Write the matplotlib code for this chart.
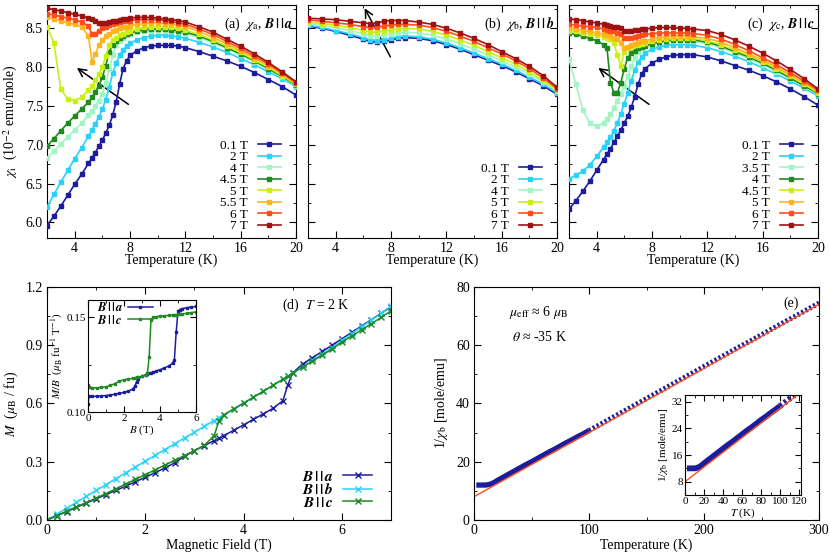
import numpy as np
import matplotlib
matplotlib.use('Agg')
from matplotlib import pyplot as plt
from matplotlib.ticker import MultipleLocator, FormatStrFormatter

plt.rcParams['font.family'] = ['Liberation Serif', 'DejaVu Serif']
plt.rcParams['mathtext.fontset'] = 'stix'

# ---------------- data: chi(T) for several fields ----------------
# panel (a), B || a
T_a = [2, 2.5, 3, 3.5, 4, 4.5, 5, 5.25, 5.5, 5.75, 6, 6.25, 6.5, 6.75, 7, 7.25, 7.5, 7.75,
       8, 8.5, 9, 9.5, 10, 10.5, 11, 11.5, 12, 13, 14, 15, 16, 17, 18, 19, 20]
chi_a_01 = [5.96, 6.08, 6.21, 6.35, 6.49, 6.62, 6.76, 6.83, 6.90, 6.98, 7.06, 7.15, 7.25, 7.38, 7.55,
            7.78, 7.98, 8.08, 8.15, 8.21, 8.25, 8.27, 8.28, 8.28, 8.28, 8.27, 8.25, 8.20, 8.14, 8.08,
            8.01, 7.93, 7.84, 7.75, 7.64]
chi_a_2 = [6.20, 6.36, 6.52, 6.67, 6.82, 6.96, 7.11, 7.19, 7.27, 7.36, 7.46, 7.58, 7.74, 7.92, 8.05,
           8.15, 8.22, 8.27, 8.31, 8.35, 8.38, 8.40, 8.41, 8.41, 8.40, 8.39, 8.37, 8.32, 8.26, 8.19,
           8.11, 8.03, 7.94, 7.85, 7.75]
chi_a_4 = [6.83, 6.92, 7.01, 7.10, 7.19, 7.28, 7.38, 7.44, 7.50, 7.57, 7.66, 7.80, 7.97, 8.15, 8.29,
           8.34, 8.38, 8.41, 8.43, 8.45, 8.46, 8.47, 8.47, 8.47, 8.46, 8.45, 8.43, 8.38, 8.31, 8.24,
           8.15, 8.07, 7.97, 7.87, 7.76]
chi_a_45 = [6.98, 7.08, 7.18, 7.28, 7.37, 7.46, 7.55, 7.61, 7.68, 7.76, 7.87, 8.02, 8.20, 8.29, 8.33,
            8.37, 8.40, 8.42, 8.44, 8.46, 8.48, 8.49, 8.49, 8.49, 8.48, 8.47, 8.45, 8.40, 8.33, 8.25,
            8.17, 8.08, 7.98, 7.88, 7.77]
chi_a_5 = [8.52, 8.31, 7.72, 7.59, 7.57, 7.61, 7.70, 7.76, 7.83, 7.91, 8.00, 8.14, 8.28, 8.35, 8.38,
           8.41, 8.43, 8.45, 8.47, 8.49, 8.51, 8.52, 8.52, 8.52, 8.51, 8.50, 8.48, 8.42, 8.35, 8.27,
           8.19, 8.09, 8.00, 7.89, 7.78]
chi_a_55 = [8.64, 8.62, 8.60, 8.57, 8.55, 8.52, 8.40, 8.07, 8.17, 8.28, 8.35, 8.40, 8.43, 8.46, 8.48,
            8.50, 8.51, 8.52, 8.53, 8.55, 8.56, 8.57, 8.57, 8.56, 8.55, 8.54, 8.52, 8.46, 8.38, 8.30,
            8.21, 8.12, 8.02, 7.91, 7.79]
chi_a_6 = [8.69, 8.67, 8.65, 8.63, 8.61, 8.58, 8.53, 8.42, 8.43, 8.47, 8.50, 8.52, 8.54, 8.55, 8.57,
           8.58, 8.59, 8.59, 8.60, 8.61, 8.61, 8.61, 8.61, 8.60, 8.59, 8.57, 8.55, 8.49, 8.42, 8.33,
           8.24, 8.14, 8.04, 7.92, 7.80]
chi_a_7 = [8.76, 8.74, 8.72, 8.70, 8.68, 8.66, 8.63, 8.62, 8.59, 8.57, 8.57, 8.57, 8.58, 8.59, 8.60,
           8.61, 8.62, 8.62, 8.63, 8.64, 8.64, 8.64, 8.63, 8.62, 8.61, 8.60, 8.58, 8.52, 8.45, 8.36,
           8.27, 8.17, 8.06, 7.94, 7.81]

# panel (b), B || b
T_b = [2, 3, 4, 5, 6, 6.5, 7, 7.5, 8, 8.5, 9, 10, 11, 12, 13, 14, 15, 16, 17, 18, 19, 20]
chi_b_01 = [8.53, 8.50, 8.46, 8.41, 8.36, 8.33, 8.32, 8.33, 8.35, 8.37, 8.38, 8.37, 8.34, 8.29, 8.23,
            8.16, 8.09, 8.02, 7.94, 7.85, 7.76, 7.65]
chi_b_2 = [8.54, 8.51, 8.47, 8.43, 8.38, 8.35, 8.34, 8.35, 8.37, 8.39, 8.40, 8.39, 8.36, 8.31, 8.25,
           8.18, 8.11, 8.04, 7.96, 7.87, 7.78, 7.67]
chi_b_4 = [8.56, 8.54, 8.51, 8.47, 8.43, 8.40, 8.40, 8.41, 8.43, 8.44, 8.45, 8.44, 8.41, 8.36, 8.30,
           8.23, 8.16, 8.08, 8.00, 7.91, 7.81, 7.69]
chi_b_5 = [8.58, 8.56, 8.54, 8.51, 8.47, 8.45, 8.45, 8.47, 8.48, 8.49, 8.50, 8.49, 8.46, 8.41, 8.35,
           8.28, 8.20, 8.12, 8.04, 7.94, 7.83, 7.70]
chi_b_6 = [8.61, 8.59, 8.57, 8.55, 8.52, 8.51, 8.51, 8.53, 8.54, 8.55, 8.55, 8.54, 8.51, 8.46, 8.40,
           8.33, 8.25, 8.17, 8.08, 7.98, 7.86, 7.72]
chi_b_7 = [8.63, 8.62, 8.61, 8.59, 8.57, 8.56, 8.57, 8.59, 8.60, 8.60, 8.60, 8.58, 8.55, 8.50, 8.44,
           8.37, 8.29, 8.20, 8.11, 8.01, 7.89, 7.74]

# panel (c), B || c
T_c = [2, 2.5, 3, 3.5, 4, 4.5, 4.75, 5, 5.25, 5.5, 5.75, 6, 6.25, 6.5, 6.75, 7, 7.25, 7.5,
       8, 8.5, 9, 9.5, 10, 10.5, 11, 12, 13, 14, 15, 16, 17, 18, 19, 20]
chi_c_01 = [6.17, 6.28, 6.40, 6.53, 6.67, 6.81, 6.88, 6.95, 7.03, 7.11, 7.19, 7.28, 7.37, 7.48, 7.62,
            7.78, 7.91, 7.98, 8.05, 8.10, 8.13, 8.15, 8.16, 8.16, 8.16, 8.13, 8.08, 8.02, 7.96, 7.89,
            7.81, 7.72, 7.62, 7.51]
chi_c_2 = [6.56, 6.61, 6.66, 6.74, 6.85, 6.97, 7.03, 7.10, 7.18, 7.28, 7.40, 7.53, 7.67, 7.82, 7.96,
           8.06, 8.13, 8.18, 8.23, 8.26, 8.28, 8.29, 8.29, 8.29, 8.28, 8.25, 8.20, 8.14, 8.07, 7.99,
           7.91, 7.82, 7.73, 7.63]
chi_c_35 = [8.10, 7.78, 7.45, 7.28, 7.24, 7.28, 7.33, 7.39, 7.47, 7.56, 7.66, 7.76, 7.88, 8.01, 8.12,
            8.19, 8.24, 8.27, 8.30, 8.32, 8.34, 8.34, 8.34, 8.34, 8.33, 8.30, 8.25, 8.18, 8.11, 8.03,
            7.94, 7.85, 7.75, 7.65]
chi_c_4 = [8.44, 8.42, 8.40, 8.37, 8.34, 8.29, 8.24, 7.80, 7.67, 7.67, 7.80, 7.98, 8.12, 8.18, 8.21,
           8.24, 8.26, 8.27, 8.30, 8.32, 8.34, 8.35, 8.35, 8.35, 8.35, 8.32, 8.27, 8.20, 8.13, 8.05,
           7.96, 7.86, 7.76, 7.66]
chi_c_45 = [8.47, 8.46, 8.44, 8.43, 8.41, 8.39, 8.38, 8.36, 8.31, 8.15, 8.02, 8.20, 8.24, 8.26, 8.28,
            8.29, 8.30, 8.31, 8.33, 8.35, 8.36, 8.37, 8.37, 8.37, 8.37, 8.34, 8.29, 8.22, 8.15, 8.07,
            7.98, 7.88, 7.78, 7.67]
chi_c_5 = [8.50, 8.49, 8.47, 8.46, 8.44, 8.42, 8.41, 8.40, 8.38, 8.36, 8.31, 8.24, 8.26, 8.28, 8.30,
           8.32, 8.33, 8.34, 8.36, 8.38, 8.39, 8.40, 8.40, 8.40, 8.39, 8.37, 8.32, 8.25, 8.17, 8.09,
           8.00, 7.90, 7.80, 7.69]
chi_c_6 = [8.55, 8.54, 8.53, 8.52, 8.51, 8.49, 8.48, 8.47, 8.46, 8.44, 8.42, 8.37, 8.37, 8.38, 8.39,
           8.40, 8.41, 8.42, 8.43, 8.44, 8.44, 8.44, 8.44, 8.44, 8.43, 8.41, 8.36, 8.29, 8.21, 8.12,
           8.03, 7.93, 7.82, 7.70]
chi_c_7 = [8.62, 8.61, 8.60, 8.58, 8.57, 8.55, 8.54, 8.53, 8.52, 8.51, 8.50, 8.47, 8.47, 8.47, 8.48,
           8.48, 8.49, 8.49, 8.50, 8.51, 8.51, 8.51, 8.50, 8.50, 8.49, 8.47, 8.42, 8.35, 8.27, 8.18,
           8.08, 7.97, 7.85, 7.72]

# ---------------- data: M(B) at 2 K ----------------
B_field = [0, 0.2, 0.4, 0.6, 0.8, 1.0, 1.2, 1.4, 1.6, 1.8, 2.0, 2.2, 2.4, 2.6, 2.8, 3.0, 3.2, 3.4,
           3.5, 3.6, 3.8, 4.0, 4.2, 4.4, 4.6, 4.8, 4.9, 5.0, 5.2, 5.4, 5.6, 5.8, 6.0, 6.2, 6.4,
           6.6, 6.8, 7.0]
M_a = [0.0, 0.022, 0.043, 0.065, 0.087, 0.109, 0.131, 0.152, 0.174, 0.197, 0.220, 0.244, 0.268,
       0.295, 0.328, 0.357, 0.383, 0.409, 0.421, 0.435, 0.462, 0.490, 0.518, 0.546, 0.575, 0.614,
       0.696, 0.758, 0.803, 0.836, 0.868, 0.900, 0.933, 0.966, 0.999, 1.032, 1.065, 1.098]
M_b = [0.0, 0.030, 0.061, 0.091, 0.122, 0.152, 0.182, 0.213, 0.243, 0.273, 0.303, 0.333, 0.363,
       0.393, 0.423, 0.452, 0.482, 0.512, 0.527, 0.542, 0.572, 0.602, 0.632, 0.662, 0.693, 0.724,
       0.740, 0.756, 0.789, 0.822, 0.855, 0.888, 0.925, 0.960, 0.995, 1.030, 1.065, 1.102]
M_c = [0.0, 0.023, 0.045, 0.068, 0.090, 0.113, 0.136, 0.160, 0.185, 0.209, 0.234, 0.258, 0.283,
       0.307, 0.332, 0.357, 0.384, 0.434, 0.510, 0.541, 0.572, 0.602, 0.632, 0.663, 0.694, 0.725,
       0.740, 0.757, 0.788, 0.818, 0.849, 0.880, 0.916, 0.947, 0.979, 1.011, 1.043, 1.077]

# inset: M/B
B_in = [0, 0.05, 0.25, 0.5, 0.75, 1.0, 1.25, 1.5, 1.75, 2.0, 2.25, 2.5, 2.6, 2.7, 2.8, 3.0, 3.2,
        3.3, 3.4, 3.5, 3.6, 3.8, 4.0, 4.25, 4.5, 4.7, 4.8, 4.9, 5.0, 5.1, 5.25, 5.5, 5.75, 6.0]
MB_a = [0.1040, 0.1085, 0.1083, 0.1083, 0.1085, 0.1087, 0.1090, 0.1094, 0.1098, 0.1103, 0.1110,
        0.1122, 0.1135, 0.1160, 0.1175, 0.1188, 0.1196, 0.1200, 0.1203, 0.1206, 0.1209, 0.1216,
        0.1223, 0.1232, 0.1243, 0.1258, 0.1275, 0.1420, 0.1530, 0.1540, 0.1545, 0.1550, 0.1553,
        0.1556]
MB_c = [0.1140, 0.1130, 0.1127, 0.1127, 0.1130, 0.1133, 0.1140, 0.1150, 0.1163, 0.1170, 0.1174,
        0.1178, 0.1180, 0.1182, 0.1184, 0.1188, 0.1195, 0.1203, 0.1290, 0.1485, 0.1498, 0.1502,
        0.1505, 0.1507, 0.1509, 0.1511, 0.1512, 0.1513, 0.1514, 0.1515, 0.1517, 0.1520, 0.1524,
        0.1527]

# ---------------- data: 1/chi_b(T) ----------------
T_low = [2, 4, 6, 8, 10, 12, 14, 16, 18, 20, 25, 30, 35, 40, 45, 50, 55, 60, 65, 70, 75, 80, 85,
         90, 95, 100]
inv_low = [12.0, 12.0, 12.0, 12.0, 12.0, 12.1, 12.3, 12.6, 13.0, 13.5, 14.6, 15.7, 16.8, 17.9,
           19.0, 20.0, 21.1, 22.2, 23.3, 24.3, 25.4, 26.5, 27.5, 28.6, 29.6, 30.7]
T_high = [100, 110, 120, 130, 140, 150, 160, 170, 180, 190, 200, 210, 220, 230, 240, 250, 260,
          270, 280, 290, 300]
inv_high = [30.7, 32.9, 35.1, 37.3, 39.5, 41.7, 43.9, 46.1, 48.3, 50.5, 52.7, 54.9, 57.1, 59.3,
            61.4, 63.6, 65.8, 68.0, 70.1, 72.3, 74.5]
fit_T = [0, 300]
fit_inv = [8.0, 74.1]

# colours
navy = '#1c1c9c'
cyan = '#28d2fa'
mint = '#a2f5c2'
green = '#1f8a1f'
ygreen = '#c8f014'
orange = '#ffb41e'
redor = '#ff4e1c'
dkred = '#a01212'

par = r'\,\mathbf{|\,|}\,'


def style(ax, fs=10, maj=5, mino=2.5):
    ax.tick_params(which='both', direction='in', top=True, right=True, labelsize=fs, pad=3)
    ax.tick_params(which='major', length=maj)
    ax.tick_params(which='minor', length=mino)


fig = plt.figure(figsize=(8.3, 5.58), dpi=100)

top_left = [0.0566, 0.3711, 0.6855]
panels = [
    (T_a, [chi_a_01, chi_a_2, chi_a_4, chi_a_45, chi_a_5, chi_a_55, chi_a_6, chi_a_7],
     ['0.1 T', '2 T', '4 T', '4.5 T', '5 T', '5.5 T', '6 T', '7 T'],
     [navy, cyan, mint, green, ygreen, orange, redor, dkred],
     r'(a)  $\chi_{\rm a}$, $\mathbfit{B}' + par + r'\mathbfit{a}$', ((8.05, 7.5), (4.0, 8.01))),
    (T_b, [chi_b_01, chi_b_2, chi_b_4, chi_b_5, chi_b_6, chi_b_7],
     ['0.1 T', '2 T', '4 T', '5 T', '6 T', '7 T'],
     [navy, cyan, mint, ygreen, redor, dkred],
     r'(b)  $\chi_{\rm b}$, $\mathbfit{B}' + par + r'\mathbfit{b}$', ((8.05, 8.1), (6.0, 8.79))),
    (T_c, [chi_c_01, chi_c_2, chi_c_35, chi_c_4, chi_c_45, chi_c_5, chi_c_6, chi_c_7],
     ['0.1 T', '2 T', '3.5 T', '4 T', '4.5 T', '5 T', '6 T', '7 T'],
     [navy, cyan, mint, green, ygreen, orange, redor, dkred],
     r'(c)  $\chi_{\rm c}$, $\mathbfit{B}' + par + r'\mathbfit{c}$', ((7.95, 7.5), (3.96, 8.01))),
]

for i, (T, curves, labels, cols, title, arrow) in enumerate(panels):
    ax = fig.add_axes([top_left[i], 0.5735, 0.3, 0.4176])
    # arrow drawn first so the curves sit on top of it
    ax.annotate('', xy=arrow[1], xytext=arrow[0],
                arrowprops=dict(arrowstyle='->', color='k', lw=1.1, mutation_scale=14), zorder=1)
    for y, lab, c in zip(curves, labels, cols):
        ax.plot(T, y, '-s', color=c, lw=1.2, ms=2.2, label=lab, zorder=3)
    ax.set_xlim(2, 20)
    ax.set_ylim(5.8, 8.8)
    ax.xaxis.set_minor_locator(MultipleLocator(2))
    ax.yaxis.set_major_locator(MultipleLocator(0.5))
    ax.yaxis.set_minor_locator(MultipleLocator(0.25))
    ax.yaxis.set_major_formatter(FormatStrFormatter('%.1f'))
    ax.set_xticks([4, 8, 12, 16, 20])
    style(ax)
    ax.set_xlabel('Temperature (K)', fontsize=10, labelpad=-1)
    if i == 0:
        ax.set_ylabel(r'$\chi_{\rm i}$  (10$^{-2}$ emu/mole)', fontsize=10, labelpad=4)
    else:
        ax.tick_params(labelleft=False)
    ax.text(0.988, 0.918, title, transform=ax.transAxes, ha='right', va='center', fontsize=10)
    ax.legend(loc='lower right', markerfirst=False, frameon=False, fontsize=9.5,
              handlelength=1.7, handletextpad=0.8, labelspacing=-0.06, borderpad=0,
              borderaxespad=0, bbox_to_anchor=(0.938, 0.025))

# ---------------- panel (d) ----------------
axd = fig.add_axes([0.0566, 0.0681, 0.4145, 0.4176])
axd.plot(B_field, M_a, '-x', color=navy, lw=1.1, ms=4, mew=1, label=r'$\mathbfit{B}' + par + r'\mathbfit{a}$')
axd.plot(B_field, M_b, '-x', color=cyan, lw=1.1, ms=4, mew=1, label=r'$\mathbfit{B}' + par + r'\mathbfit{b}$')
axd.plot(B_field, M_c, '-x', color=green, lw=1.1, ms=4, mew=1, label=r'$\mathbfit{B}' + par + r'\mathbfit{c}$')
axd.set_xlim(0, 7)
axd.set_ylim(0, 1.2)
axd.xaxis.set_major_locator(MultipleLocator(2))
axd.xaxis.set_minor_locator(MultipleLocator(1))
axd.yaxis.set_major_locator(MultipleLocator(0.3))
axd.yaxis.set_minor_locator(MultipleLocator(0.15))
axd.yaxis.set_major_formatter(FormatStrFormatter('%.1f'))
style(axd)
axd.set_xlabel('Magnetic Field (T)', fontsize=10, labelpad=1)
axd.set_ylabel(r'$M$  ($\mu_{\rm B}$ / fu)', fontsize=10, labelpad=4)
axd.text(0.88, 0.923, r'(d)  $T$ = 2 K', transform=axd.transAxes, ha='right', va='center', fontsize=10)
axd.legend(loc='lower right', markerfirst=False, frameon=False, fontsize=11,
           handlelength=1.9, handletextpad=0.6, labelspacing=-0.1, borderpad=0,
           borderaxespad=0, bbox_to_anchor=(0.945, 0.045))

axdi = fig.add_axes([0.106, 0.2616, 0.1301, 0.2007])
axdi.plot(B_in, MB_a, '-s', color=navy, lw=1.1, ms=1.8, label=r'$\mathbfit{B}' + par + r'\mathbfit{a}$')
axdi.plot(B_in, MB_c, '-s', color=green, lw=1.1, ms=1.8, label=r'$\mathbfit{B}' + par + r'\mathbfit{c}$')
axdi.set_xlim(0, 6)
axdi.set_ylim(0.10, 0.159)
axdi.xaxis.set_major_locator(MultipleLocator(2))
axdi.xaxis.set_minor_locator(MultipleLocator(1))
axdi.set_yticks([0.10, 0.15])
axdi.set_yticks([0.125], minor=True)
axdi.yaxis.set_major_formatter(FormatStrFormatter('%.2f'))
style(axdi, fs=8, maj=4, mino=2)
axdi.tick_params(pad=1.5)
axdi.set_xlabel(r'$B$ (T)', fontsize=8, labelpad=0)
axdi.set_ylabel(r'$M/B$  ($\mu_{\rm B}$ fu$^{-1}$ T$^{-1}$)', fontsize=8, labelpad=1)
axdi.legend(loc='upper left', markerfirst=False, frameon=False, fontsize=9,
            handlelength=2.0, handletextpad=0.4, labelspacing=-0.05, borderpad=0,
            borderaxespad=0, bbox_to_anchor=(0.08, 0.99))

# ---------------- panel (e) ----------------
axe = fig.add_axes([0.5711, 0.0681, 0.4157, 0.4176])
axe.plot(T_low, inv_low, '-', color=navy, lw=3.8, solid_capstyle='butt')
axe.plot(T_high, inv_high, color=navy, lw=3.6, ls=(0, (0.45, 0.45)))
axe.plot(fit_T, fit_inv, '-', color=redor, lw=1)
axe.set_xlim(0, 300)
axe.set_ylim(0, 80)
axe.xaxis.set_major_locator(MultipleLocator(100))
axe.xaxis.set_minor_locator(MultipleLocator(50))
axe.yaxis.set_major_locator(MultipleLocator(20))
axe.yaxis.set_minor_locator(MultipleLocator(10))
style(axe)
axe.set_xlabel('Temperature (K)', fontsize=10, labelpad=1)
axe.set_ylabel(r'1/$\chi_{\rm b}$ [mole/emu]', fontsize=10, labelpad=4)
axe.text(0.94, 0.93, '(e)', transform=axe.transAxes, ha='right', va='center', fontsize=10)
axe.text(0.10, 0.89, r'$\mu_{\rm eff}$ ≈ 6 $\mu_{\rm B}$', transform=axe.transAxes, ha='left',
         va='center', fontsize=10)
axe.text(0.11, 0.785, r'$\theta$ ≈ -35 K', transform=axe.transAxes, ha='left', va='center',
         fontsize=10)

axei = fig.add_axes([0.8253, 0.1129, 0.1398, 0.1792])
axei.plot(T_low, inv_low, '-', color=navy, lw=4.2, solid_capstyle='butt')
axei.plot(T_high, inv_high, color=navy, lw=4.2, ls=(0, (0.45, 0.45)))
axei.plot(fit_T, fit_inv, '-', color=redor, lw=1)
axei.set_xlim(0, 122)
axei.set_ylim(4, 34)
axei.xaxis.set_major_locator(MultipleLocator(20))
axei.xaxis.set_minor_locator(MultipleLocator(10))
axei.yaxis.set_major_locator(MultipleLocator(8))
axei.yaxis.set_minor_locator(MultipleLocator(4))
style(axei, fs=8, maj=4, mino=2)
axei.tick_params(pad=1.5)
axei.set_xlabel(r'$T$ (K)', fontsize=8, labelpad=0)
axei.set_ylabel(r'1/$\chi_{\rm b}$ [mole/emu]', fontsize=8, labelpad=1)

fig.savefig('out.png', dpi=100)
